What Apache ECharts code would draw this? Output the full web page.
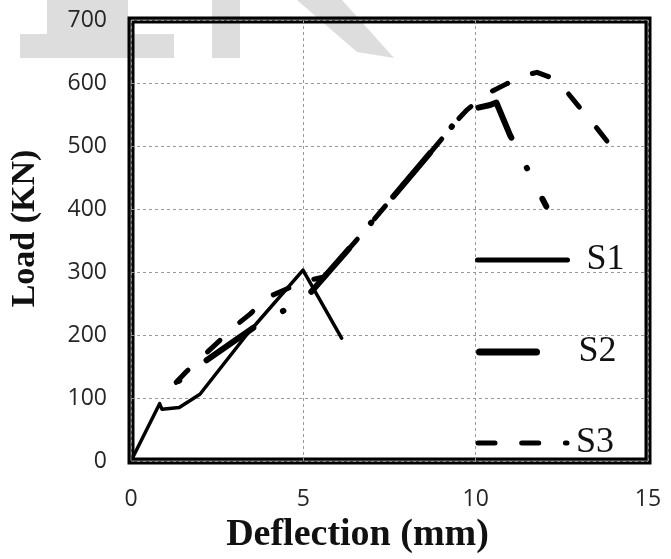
<!DOCTYPE html>
<html><head><meta charset="utf-8">
<script src="https://cdn.jsdelivr.net/npm/echarts@6/dist/echarts.min.js"></script>
<style>html,body{margin:0;padding:0;background:#fff}#c{width:671px;height:559px}</style>
</head><body><div id="c"></div>
<script>
// ---- data ----
const seriesNames = ['S1', 'S2', 'S3'];
const xRange = [0, 15];      // Deflection (mm), ticks every 5
const yRange = [0, 700];     // Load (KN), ticks every 100
const s1Data = [[0,0],[0.83,91],[0.9,82],[1.4,85],[2.0,106],[3.35,200],[4.99,303],[6.11,195]];
const s2Data = [[1.26,122],[2.09,156],[3.59,213],[4.35,236],[5.14,263],[6.55,351],[8.97,508],[9.4,537],[9.74,557],[10.42,565],[10.6,569],[11.0,517],[11.42,472],[12.05,404]];
const s3Data = [[1.26,122],[1.61,142],[3.06,216],[3.47,234],[3.97,260],[4.6,275],[5.0,285],[5.6,292],[6.55,351],[8.97,508],[9.4,537],[9.74,557],[10.33,583],[10.91,599],[11.44,612],[11.78,617],[12.12,610],[12.6,589],[12.99,563],[13.42,535],[13.85,505]];

const chart = echarts.init(document.getElementById('c'), null, {renderer: 'canvas'});
const tickFont = {fontFamily: 'Open Sans', fontSize: 23, color: '#262626'};
const serif = 'Liberation Serif';
const s2Dash = [57, 34, 0.5, 34];
const s3Dash = [17, 26.7];

const legendBase = {
  orient: 'vertical', padding: 0, selectedMode: false,
  itemHeight: 10,
  itemStyle: {color: 'rgba(0,0,0,0)', borderWidth: 0, opacity: 0},
  textStyle: {fontFamily: serif, fontSize: 36, color: '#111', lineHeight: 36}
};

chart.setOption({
  animation: false,
  backgroundColor: '#fff',
  grid: {left: 131, top: 20, width: 517, height: 448, show: true,
         borderColor: '#000', borderWidth: 7, backgroundColor: 'transparent'},
  xAxis: {
    type: 'value', min: xRange[0], max: xRange[1], interval: 5,
    name: 'Deflection (mm)', nameLocation: 'middle', nameGap: 55,
    nameTextStyle: {fontFamily: serif, fontWeight: 'bold', fontSize: 38, color: '#111', padding: [0, 64, 0, 0]},
    axisLine: {show: false}, axisTick: {show: false},
    axisLabel: Object.assign({margin: 27}, tickFont),
    splitLine: {show: true, lineStyle: {color: '#999', type: [3, 3], width: 1}}
  },
  yAxis: {
    type: 'value', min: yRange[0], max: yRange[1], interval: 100,
    name: 'Load (KN)', nameLocation: 'middle', nameGap: 89, nameRotate: 90,
    nameTextStyle: {fontFamily: serif, fontWeight: 'bold', fontSize: 34, color: '#111', padding: [0, 0, 0, 24]},
    axisLine: {show: false}, axisTick: {show: false},
    axisLabel: Object.assign({margin: 24}, tickFont),
    splitLine: {show: true, lineStyle: {color: '#999', type: [3, 3], width: 1}}
  },
  legend: [
    Object.assign({}, legendBase, {data: ['S1'], left: 475, top: 242, itemWidth: 90,
      lineStyle: {width: 5, cap: 'round', type: 'solid'},
      textStyle: Object.assign({}, legendBase.textStyle, {padding: [0, 0, 0, 14]})}),
    Object.assign({}, legendBase, {data: ['S2'], left: 476, top: 334, itemWidth: 62,
      lineStyle: {width: 7, cap: 'round', type: s2Dash, dashOffset: 0},
      textStyle: Object.assign({}, legendBase.textStyle, {padding: [0, 0, 0, 32]})}),
    Object.assign({}, legendBase, {data: ['S3'], left: 475.5, top: 425, itemWidth: 89,
      lineStyle: {width: 5, cap: 'round', type: s3Dash, dashOffset: 0},
      textStyle: Object.assign({}, legendBase.textStyle, {padding: [0, 0, 0, 4]})})
  ],
  series: [
    {name: seriesNames[0], type: 'line', data: s1Data, symbol: 'none', z: 3,
     lineStyle: {color: '#000', width: 3.5, cap: 'round', join: 'round'}},
    {name: seriesNames[1], type: 'line', data: s2Data, symbol: 'none', z: 4,
     lineStyle: {color: '#000', width: 6, cap: 'round', join: 'round', type: s2Dash, dashOffset: 85.5}},
    {name: seriesNames[2], type: 'line', data: s3Data, symbol: 'none', z: 5,
     lineStyle: {color: '#000', width: 5, cap: 'round', join: 'round', type: s3Dash, dashOffset: 41.2}}
  ],
  color: ['#000', '#000', '#000']
});

const p0 = chart.convertToPixel({gridIndex: 0}, [xRange[0], yRange[0]]);
const p1 = chart.convertToPixel({gridIndex: 0}, [xRange[1], yRange[1]]);
const wm = '#dddddd';
chart.setOption({
  graphic: {elements: [
    {type: 'rect', z: -10, silent: true, shape: {x: 47, y: 0, width: 81, height: 34}, style: {fill: wm}},
    {type: 'rect', z: -10, silent: true, shape: {x: 20, y: 34, width: 154, height: 24}, style: {fill: wm}},
    {type: 'rect', z: -10, silent: true, shape: {x: 212, y: 0, width: 28, height: 58}, style: {fill: wm}},
    {type: 'polygon', z: -10, silent: true, shape: {points: [[297,0],[342,0],[394,58],[357,52]]}, style: {fill: wm}},
    {type: 'rect', z: 100, silent: true,
     shape: {x: p0[0], y: p1[1], width: p1[0] - p0[0], height: p0[1] - p1[1]},
     style: {fill: 'none', stroke: '#808080', lineWidth: 1}}
  ]}
});
</script>
</body></html>
